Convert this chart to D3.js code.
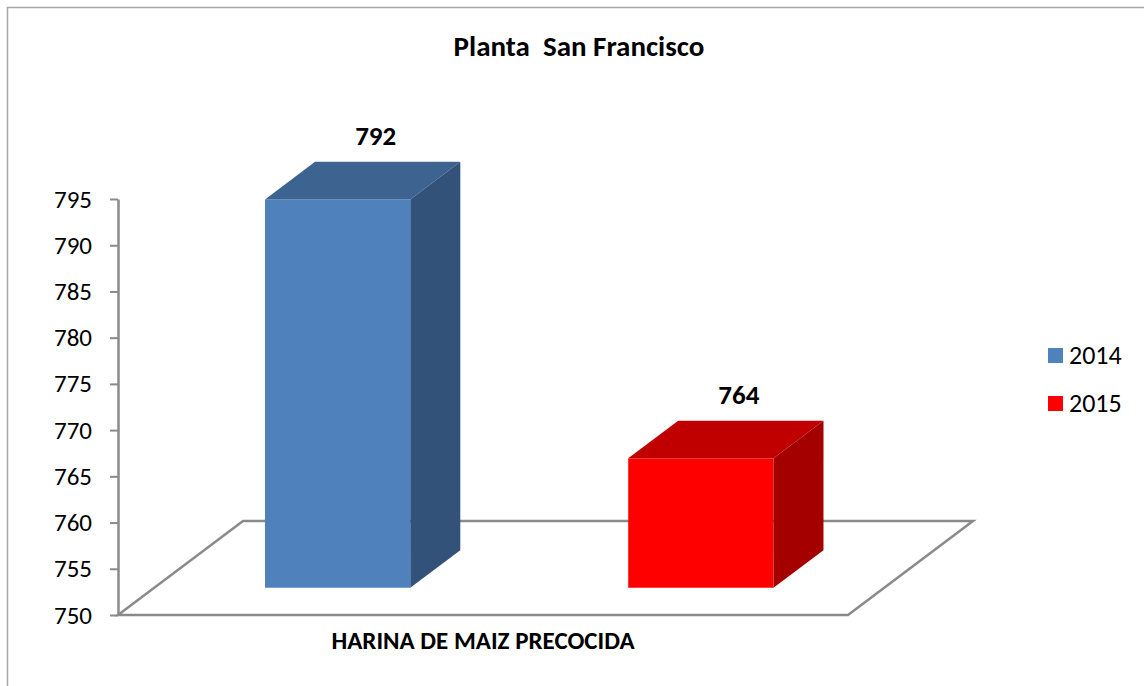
<!DOCTYPE html>
<html>
<head>
<meta charset="utf-8">
<script src="https://cdn.jsdelivr.net/npm/d3@7"></script>
<style>
  html, body { margin: 0; padding: 0; background: #fff; }
  svg { display: block; }
  text { font-family: Carlito, Calibri, Lato, sans-serif; fill: #000; white-space: pre; }
</style>
</head>
<body>
<svg id="chart"></svg>
<script>
const title = 'Planta  San Francisco';
const categories = ['HARINA DE MAIZ PRECOCIDA'];
const seriesNames = ['2014', '2015'];
const values2014 = [792];
const values2015 = [764];
const yTicks = [750, 755, 760, 765, 770, 775, 780, 785, 790, 795];

const seriesColors = {
  '2014': { front: '#4f81bd', top: '#3d6390', side: '#33527a' },
  '2015': { front: '#ff0000', top: '#c00000', side: '#a50000' }
};

const width = 1144;
const height = 686;

// front plane of the floor
const plot = { left: 118, right: 848, top: 199, bottom: 615 };
// full depth of floor in screen space
const depth = { dx: 125, dy: -94 };
// bars sit in the middle of the depth
const barFront = 0.29;
const barBack = 0.69;

const svg = d3.select('#chart')
    .attr('width', width)
    .attr('height', height);

// outer chart border
svg.append('rect')
    .attr('x', 7.5)
    .attr('y', 7.5)
    .attr('width', width + 20)
    .attr('height', height + 20)
    .attr('fill', 'none')
    .attr('stroke', '#a6a6a6')
    .attr('stroke-width', 1.5);

const y = d3.scaleLinear()
    .domain([750, 795])
    .range([plot.bottom, plot.top]);

const x0 = d3.scaleBand()
    .domain(categories)
    .range([plot.left, plot.right]);

const x1 = d3.scaleBand()
    .domain(seriesNames)
    .range([0, x0.bandwidth()])
    .paddingInner(0.6)
    .paddingOuter(0.305);

// floor
const base = y.domain()[0];
const fx0 = plot.left, fx1 = plot.right, fy = y(base);
svg.append('path')
    .attr('d', `M${fx0},${fy}L${fx1},${fy}L${fx1 + depth.dx},${fy + depth.dy}L${fx0 + depth.dx},${fy + depth.dy}Z`)
    .attr('fill', 'none')
    .attr('stroke', '#8a8a8a')
    .attr('stroke-width', 2.5)
    .attr('stroke-linejoin', 'miter');

// value axis
const axis = svg.append('g')
    .attr('transform', `translate(${plot.left},0)`)
    .call(d3.axisLeft(y).tickValues(yTicks).tickSize(8).tickSizeOuter(0).tickPadding(18).tickFormat(d3.format('d')));
axis.select('.domain').attr('stroke', '#8a8a8a').attr('stroke-width', 2.5);
axis.selectAll('.tick line').attr('stroke', '#8a8a8a').attr('stroke-width', 2);
axis.selectAll('.tick text')
    .style('font-size', '25px')
    .attr('fill', '#000');

// bars
const bars = [];
categories.forEach((c, i) => {
  bars.push({ cat: c, key: '2014', value: values2014[i] });
  bars.push({ cat: c, key: '2015', value: values2015[i] });
});

const fdx = depth.dx * barFront, fdy = depth.dy * barFront;
const bdx = depth.dx * barBack, bdy = depth.dy * barBack;
const ddx = bdx - fdx, ddy = bdy - fdy;

const g = svg.selectAll('g.bar')
  .data(bars)
  .join('g')
    .attr('class', 'bar');

g.each(function(d) {
  const el = d3.select(this);
  const xl = x0(d.cat) + x1(d.key) + fdx;
  const xr = xl + x1.bandwidth();
  const yt = y(d.value) + fdy;
  const yb = y(base) + fdy;
  const col = seriesColors[d.key];

  el.append('rect')
      .attr('x', xl)
      .attr('y', yt)
      .attr('width', xr - xl)
      .attr('height', yb - yt)
      .attr('fill', col.front);

  el.append('path')
      .attr('d', `M${xl},${yt}L${xl + ddx},${yt + ddy}L${xr + ddx},${yt + ddy}L${xr},${yt}Z`)
      .attr('fill', col.top);

  el.append('path')
      .attr('d', `M${xr},${yt}L${xr + ddx},${yt + ddy}L${xr + ddx},${yb + ddy}L${xr},${yb}Z`)
      .attr('fill', col.side);

  el.append('text')
      .attr('x', (xl + xr) / 2 + 38)
      .attr('y', yt + ddy - 17)
      .attr('text-anchor', 'middle')
      .style('font-size', '27px')
      .style('font-weight', 'bold')
      .text(d.value);
});

// title
svg.append('text')
    .attr('x', 579)
    .attr('y', 56)
    .attr('text-anchor', 'middle')
    .style('font-size', '29px')
    .style('font-weight', 'bold')
    .text(title);

// category label
svg.append('text')
    .attr('x', x0(categories[0]) + x0.bandwidth() / 2)
    .attr('y', 649)
    .attr('text-anchor', 'middle')
    .style('font-size', '25px')
    .style('font-weight', 'bold')
    .text(categories[0]);

// legend
const legend = svg.append('g')
    .attr('transform', 'translate(1048,348)');
const item = legend.selectAll('g')
  .data(seriesNames)
  .join('g')
    .attr('transform', (d, i) => `translate(0,${i * 48})`);
item.append('rect')
    .attr('width', 15)
    .attr('height', 15)
    .attr('fill', d => seriesColors[d].front);
item.append('text')
    .attr('x', 21)
    .attr('y', 16)
    .style('font-size', '26px')
    .text(d => d);
</script>
</body>
</html>
